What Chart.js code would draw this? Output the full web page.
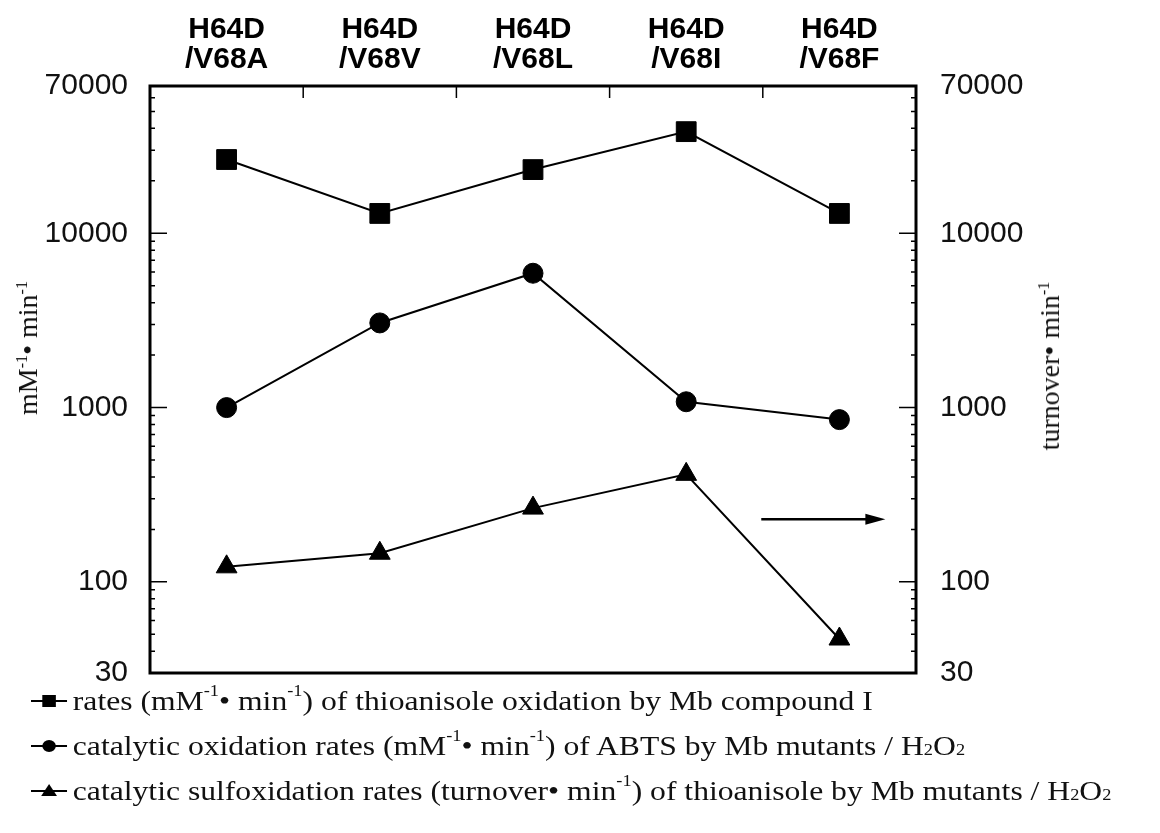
<!DOCTYPE html>
<html>
<head>
<meta charset="utf-8">
<script src="https://cdn.jsdelivr.net/npm/chart.js@4.4.1/dist/chart.umd.min.js"></script>
<style>
html, body { margin: 0; padding: 0; background: #fff; }
#wrap { position: relative; width: 1160px; height: 833px; overflow: hidden; }
#wrap canvas { position: absolute; left: 0; top: 0; }
.ytitle {
    position: absolute; font-family: "Liberation Serif", serif; font-size: 28px; color: #111;
    white-space: nowrap; transform: translate(-50%, -50%) rotate(-90deg); line-height: 1;
}
.legend {
    position: absolute; left: 31px; top: 678px; font-family: "Liberation Serif", serif; font-size: 28px; color: #111;
    transform: scaleX(1.13); transform-origin: 0 0;
}
.legend div { height: 45px; display: flex; align-items: center; white-space: nowrap; }
.legend svg { margin-right: 5px; }
sup, sub { font-size: 58%; line-height: 0; vertical-align: baseline; position: relative; }
sup { top: -0.6em; }
sub { top: 0.3em; }
</style>
</head>
<body>
<div id="wrap">
    <canvas id="chart" width="1160" height="833"></canvas>
    <div class="ytitle" style="left:28px; top:348px;">mM<sup>-1</sup>• min<sup>-1</sup></div>
    <div class="ytitle" style="left:1050px; top:366px;">turnover• min<sup>-1</sup></div>
    <div class="legend">
        <div><svg width="32" height="20"><line x1="0" y1="10" x2="32" y2="10" stroke="#000" stroke-width="2"/><rect x="10" y="4" width="12" height="12" fill="#000"/></svg>rates (mM<sup>-1</sup>• min<sup>-1</sup>) of thioanisole oxidation by Mb compound I</div>
        <div><svg width="32" height="20"><line x1="0" y1="10" x2="32" y2="10" stroke="#000" stroke-width="2"/><circle cx="16" cy="10" r="6" fill="#000"/></svg>catalytic oxidation rates (mM<sup>-1</sup>• min<sup>-1</sup>) of ABTS by Mb mutants / H<sub>2</sub>O<sub>2</sub></div>
        <div><svg width="32" height="20"><line x1="0" y1="10" x2="32" y2="10" stroke="#000" stroke-width="2"/><polygon points="16,3 23,15 9,15" fill="#000"/></svg>catalytic sulfoxidation rates (turnover• min<sup>-1</sup>) of thioanisole by Mb mutants / H<sub>2</sub>O<sub>2</sub></div>
    </div>
</div>
<script>
// 数据
const categories = [['H64D', '/V68A'], ['H64D', '/V68V'], ['H64D', '/V68L'], ['H64D', '/V68I'], ['H64D', '/V68F']];
const compoundIRates = [26500, 13000, 23200, 38300, 13000];
const abtsRates = [1000, 3060, 5900, 1080, 853];
const sulfoxidationRates = [122, 146, 265, 414, 47];

const labelTicks = [30, 100, 1000, 10000, 70000];
const minorTicks = [40, 50, 60, 70, 80, 90,
    200, 300, 400, 500, 600, 700, 800, 900,
    2000, 3000, 4000, 5000, 6000, 7000, 8000, 9000,
    20000, 30000, 40000, 50000, 60000];

const allTicks = labelTicks.concat(minorTicks).sort((a, b) => a - b);

// 对数轴共用设置
function logAxis(position, pad) {
    return {
        type: 'logarithmic',
        position: position,
        min: 30,
        max: 70000,
        grid: { display: false, drawTicks: false },
        border: { display: false },
        afterBuildTicks: scale => {
            scale.ticks = allTicks.map(v => ({ value: v }));
        },
        afterFit: scale => {
            scale.width = position === 'left' ? 150 : 244;
        },
        ticks: {
            autoSkip: false,
            padding: pad,
            color: '#111',
            font: { family: '"Liberation Sans", Arial, sans-serif', size: 30 },
            callback: v => labelTicks.includes(v) ? String(v) : ''
        }
    };
}

// 边框、向内刻度和箭头
const frameTicks = {
    id: 'frameTicks',
    afterDraw(chart) {
        const { ctx, chartArea: a, scales } = chart;
        ctx.save();
        ctx.strokeStyle = '#000';

        ctx.lineWidth = 1.5;
        allTicks.forEach(v => {
            if (v === 30 || v === 70000) return;
            const len = (v === 100 || v === 1000 || v === 10000) ? 17 : 5;
            const y = scales.y.getPixelForValue(v);
            ctx.beginPath();
            ctx.moveTo(a.left, y); ctx.lineTo(a.left + len, y);
            ctx.moveTo(a.right, y); ctx.lineTo(a.right - len, y);
            ctx.stroke();
        });

        for (let i = 0; i < categories.length - 1; i++) {
            const x = (scales.x.getPixelForValue(i) + scales.x.getPixelForValue(i + 1)) / 2;
            ctx.beginPath();
            ctx.moveTo(x, a.top); ctx.lineTo(x, a.top + 12);
            ctx.stroke();
        }

        ctx.lineWidth = 3;
        ctx.strokeRect(a.left, a.top, a.right - a.left, a.bottom - a.top);

        // 箭头：三角形数据用右轴
        const x1 = scales.x.getPixelForValue(3.49);
        const x2 = scales.x.getPixelForValue(4.3);
        const ya = scales.y1.getPixelForValue(229);
        ctx.lineWidth = 2.5;
        ctx.beginPath();
        ctx.moveTo(x1, ya); ctx.lineTo(x2 - 16, ya);
        ctx.stroke();
        ctx.fillStyle = '#000';
        ctx.beginPath();
        ctx.moveTo(x2, ya); ctx.lineTo(x2 - 20, ya - 5.5); ctx.lineTo(x2 - 20, ya + 5.5);
        ctx.closePath();
        ctx.fill();
        ctx.restore();
    }
};

function series(data, style, radius, axis) {
    return {
        data: data,
        yAxisID: axis,
        borderColor: '#000',
        borderWidth: 2,
        pointStyle: style,
        pointRadius: radius,
        pointBackgroundColor: '#000',
        pointBorderColor: '#000',
        pointBorderWidth: 1,
        tension: 0
    };
}

new Chart(document.getElementById('chart'), {
    type: 'line',
    data: {
        labels: categories,
        datasets: [
            series(compoundIRates, 'rect', 14, 'y'),
            series(abtsRates, 'circle', 10, 'y'),
            series(sulfoxidationRates, 'triangle', 12, 'y1')
        ]
    },
    options: {
        responsive: false,
        animation: false,
        layout: { padding: { left: 0, right: 0, top: 0, bottom: 160 } },
        plugins: { legend: { display: false }, tooltip: { enabled: false } },
        scales: {
            x: {
                type: 'category',
                position: 'top',
                offset: true,
                grid: { display: false, drawTicks: false },
                border: { display: false },
                afterFit: scale => { scale.height = 86; },
                ticks: {
                    maxRotation: 0,
                    autoSkip: false,
                    padding: 11,
                    color: '#000',
                    font: { family: '"Liberation Sans", Arial, sans-serif', size: 30, weight: 'bold', lineHeight: 1.0 }
                }
            },
            y: logAxis('left', 22),
            y1: logAxis('right', 24)
        }
    },
    plugins: [frameTicks]
});
</script>
</body>
</html>
